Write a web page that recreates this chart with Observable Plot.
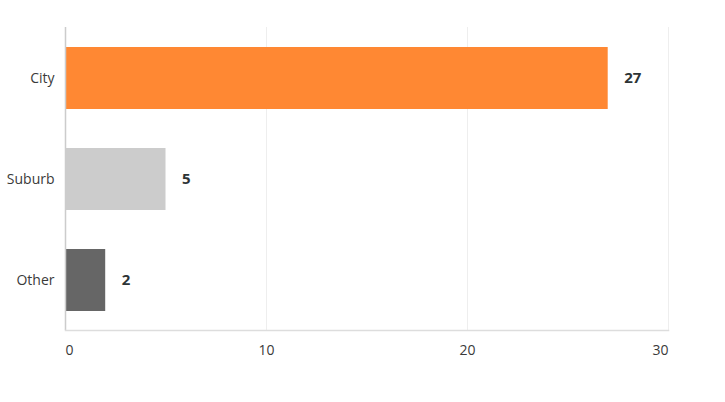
<!DOCTYPE html>
<html>
<head>
<meta charset="utf-8">
<script src="https://cdn.jsdelivr.net/npm/d3@7"></script>
<script src="https://cdn.jsdelivr.net/npm/@observablehq/plot@0.6"></script>
<style>
  html, body { margin: 0; padding: 0; background: #fff; }
  #chart svg { display: block; }
</style>
</head>
<body>
<div id="chart"></div>
<script>
const categories = ["City", "Suburb", "Other"];
const values = [27, 5, 2];
const colors = ["#ff8833", "#cccccc", "#666666"];
const xTicks = [0, 10, 20, 30];

const data = categories.map((c, i) => ({category: c, value: values[i], color: colors[i]}));
const font = "'Open Sans', 'Noto Sans', sans-serif";

const chart = Plot.plot({
  width: 725,
  height: 402,
  marginLeft: 65,
  marginRight: 57,
  marginTop: 27,
  marginBottom: 72,
  style: {fontFamily: font, fontSize: "14px", color: "#333", background: "#fff"},
  x: {domain: [0, 30], axis: null},
  y: {domain: categories, paddingInner: 0.39, paddingOuter: 0.195, label: null},
  marks: [
    Plot.ruleX(xTicks.slice(1), {stroke: "#eeeeee", strokeWidth: 1}),
    Plot.barX(data, {y: "category", x: "value", fill: "color"}),
    Plot.ruleX([0], {stroke: "#cccccc", strokeWidth: 1.5}),
    Plot.frame({anchor: "bottom", stroke: "#dddddd", strokeWidth: 1.5}),
    Plot.axisY({tickSize: 0, tickPadding: 11, fontSize: 14, label: null, fill: "#3a3a3a"}),
    Plot.text(data, {y: "category", x: "value", text: d => String(d.value), textAnchor: "start", dx: 16, fontWeight: "bold", fontSize: 15, fill: "#2d3436"}),
    Plot.text(xTicks.filter((d, i) => i === 0), {x: d => d, text: d => String(d), frameAnchor: "bottom", dy: 24, textAnchor: "start", fontSize: 14, fill: "#3a3a3a"}),
    Plot.text(xTicks.filter((d, i) => i > 0 && i < xTicks.length - 1), {x: d => d, text: d => String(d), frameAnchor: "bottom", dy: 24, textAnchor: "middle", fontSize: 14, fill: "#3a3a3a"}),
    Plot.text(xTicks.filter((d, i) => i === xTicks.length - 1), {x: d => d, text: d => String(d), frameAnchor: "bottom", dy: 24, textAnchor: "end", fontSize: 14, fill: "#3a3a3a"})
  ]
});
document.getElementById("chart").appendChild(chart);
</script>
</body>
</html>
